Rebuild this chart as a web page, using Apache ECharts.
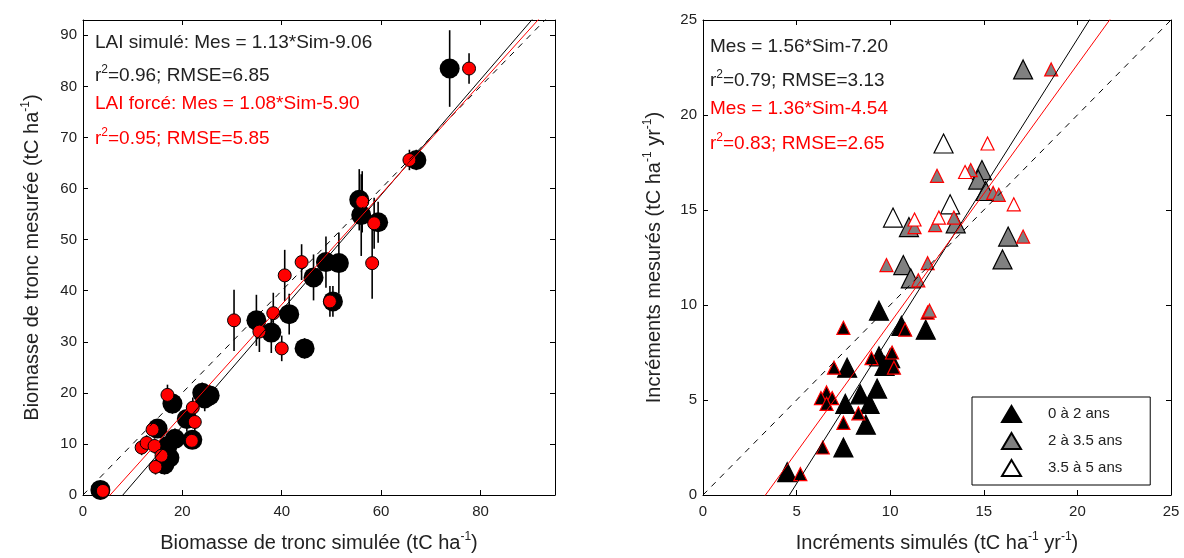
<!DOCTYPE html>
<html>
<head>
<meta charset="utf-8">
<script src="https://cdn.jsdelivr.net/npm/echarts@6/dist/echarts.min.js"></script>
<style>
html,body{margin:0;padding:0;background:#fff;}
#main{width:1184px;height:558px;}
</style>
</head>
<body>
<div id="main"></div>
<script>
// ---------- DATA ----------
// Left panel: [simulated, measured, error half-length]
const laiSimule = [
  [3.5,1.0,0],[15.0,13.0,1.5],[16.4,6.0,2],[17.0,9.6,2.5],[17.4,7.3,2],[18.0,17.9,2],
  [18.5,11.0,2],[20.9,14.9,2.5],[22.0,10.8,1.5],[24.5,18.9,2.5],[24.0,20.0,2],[25.5,19.5,2],
  [34.9,34.2,5],[37.9,31.8,4],[41.5,35.4,4],[44.6,28.7,2],[46.4,42.6,4.5],[48.9,45.6,5],
  [50.3,37.9,3],[51.5,45.4,6],[56.0,54.8,8],[55.6,57.8,6],[59.4,53.4,4],[67.1,65.6,2],[73.8,83.5,7.5]
];
const laiForce = [
  [4.0,0.8,0],[11.8,9.3,1.5],[12.8,10.2,1.5],[14.0,12.8,1.5],[14.4,9.6,1.5],[14.6,5.5,1.5],
  [15.8,7.7,1.5],[17.0,19.6,2],[22.1,17.1,2],[22.5,14.3,2],[21.9,10.6,1.5],[30.4,34.2,6],
  [35.5,32.0,4],[38.3,35.6,4],[40.0,28.7,2.5],[40.6,43.0,5],[44.0,45.6,3.5],[49.7,37.9,3],
  [56.2,57.4,6],[58.2,45.4,7],[58.6,53.2,5],[65.7,65.6,2],[77.7,83.5,3]
];
// Right panel: [simulated, measured]
const simYoung = [[4.5,1.2],[7.5,2.5],[8.7,3.7],[7.6,4.8],[8.4,5.3],[8.9,4.8],[9.3,5.6],[7.7,6.7],[9.4,7.3],[9.7,6.8],[9.4,9.7],[10.6,8.9],[11.9,8.7],[10.0,7.2]];
const simMid = [[17.1,22.4],[14.9,17.1],[14.7,16.6],[15.1,16.0],[13.5,14.3],[11.0,14.1],[10.7,12.1],[11.1,11.4],[16.3,13.6],[16.0,12.4]];
const simOld = [[12.85,18.5],[10.15,14.6],[13.2,15.3]];
const forcedYoung = [[5.2,1.1],[6.4,2.5],[7.5,3.8],[8.3,4.3],[6.6,5.4],[6.9,5.1],[6.3,5.1],[6.6,4.8],[7.0,6.7],[9.0,7.2],[10.1,7.5],[10.2,6.7],[7.5,8.8],[10.8,8.7],[12.0,9.6]];
const forcedMid = [[18.6,22.4],[14.3,17.1],[12.5,16.8],[15.5,15.9],[15.8,15.8],[12.4,14.2],[11.3,14.1],[9.8,12.1],[12.0,12.2],[11.5,11.3],[12.1,9.7],[17.1,13.6],[13.4,14.6]];
const forcedOld = [[15.2,18.5],[12.6,14.6],[16.6,15.3],[11.3,14.5],[14.0,17.0]];
// Fits [slope, intercept]
const fitLeftSim = [1.13, -9.06];
const fitLeftForce = [1.08, -5.90];
const fitRightSim = [1.56, -7.20];
const fitRightForce = [1.36, -4.54];
// Axis ranges & ticks
const leftX = [0, 95, 20];
const leftY = [0, 93, 10];
const rightX = [0, 25, 5];
const rightY = [0, 25, 5];
const legendNames = ['0 à 2 ans', '2 à 3.5 ans', '3.5 à 5 ans'];

// ---------- BUILD ----------
const FONT = '"Liberation Sans", Arial, sans-serif';
const TXT = '#222';
function lineFrom(fit, xmax) { return [[0, fit[1]], [xmax, fit[0] * xmax + fit[1]]]; }
function axis(base, gridIndex, pos, showLabel, mod) {
  return {
    type: 'value', gridIndex: gridIndex, position: pos,
    min: base[0], max: base[1], interval: base[2],
    axisLine: { show: true, onZero: false, lineStyle: { color: '#000', width: 1 } },
    axisTick: { show: true, inside: true, length: 5, lineStyle: { color: '#000' } },
    splitLine: { show: false },
    axisLabel: {
      show: showLabel, color: TXT, fontFamily: FONT, fontSize: 15, margin: pos === 'bottom' ? 9 : 6,
      formatter: v => (Math.abs(v % mod) < 1e-9 ? String(v) : '')
    }
  };
}
const richName = {
  a: { fontSize: 20, fontFamily: FONT, color: TXT, lineHeight: 24 },
  s: { fontSize: 12, fontFamily: FONT, color: TXT, lineHeight: 13, verticalAlign: 'top' }
};
const xAxes = [
  Object.assign(axis(leftX, 0, 'bottom', true, 20), { name: '{a|Biomasse de tronc simulée (tC ha}{s|-1}{a|)}', nameLocation: 'middle', nameGap: 36, nameTextStyle: { rich: richName } }),
  axis(leftX, 0, 'top', false, 20),
  Object.assign(axis(rightX, 1, 'bottom', true, 5), { name: '{a|Incréments simulés (tC ha}{s|-1}{a| yr}{s|-1}{a|)}', nameLocation: 'middle', nameGap: 36, nameTextStyle: { rich: richName } }),
  axis(rightX, 1, 'top', false, 5)
];
const yAxes = [
  Object.assign(axis(leftY, 0, 'left', true, 10), { name: '{a|Biomasse de tronc mesurée (tC ha}{s|-1}{a|)}', nameLocation: 'middle', nameGap: 39, nameTextStyle: { rich: richName } }),
  axis(leftY, 0, 'right', false, 10),
  Object.assign(axis(rightY, 1, 'left', true, 5), { name: '{a|Incréments mesurés (tC ha}{s|-1}{a| yr}{s|-1}{a|)}', nameLocation: 'middle', nameGap: 37, nameTextStyle: { rich: richName } }),
  axis(rightY, 1, 'right', false, 5)
];
function errBars(data) {
  return {
    type: 'custom', xAxisIndex: 0, yAxisIndex: 0, data: data, encode: { x: 0, y: 1 }, z: 2, silent: true,
    renderItem: (params, api) => {
      const x = api.value(0), y = api.value(1), e = api.value(2);
      const p1 = api.coord([x, y - e]), p2 = api.coord([x, y + e]);
      return { type: 'line', shape: { x1: p1[0], y1: p1[1], x2: p2[0], y2: p2[1] }, style: { stroke: '#000', lineWidth: 1.6 } };
    }
  };
}
function fitSeries(data, xi, color, dashed) {
  return {
    type: 'line', xAxisIndex: xi, yAxisIndex: xi, data: data, showSymbol: false, symbol: 'none', clip: true, z: 10, silent: true,
    lineStyle: { color: color, width: 1, type: dashed ? [6, 6] : 'solid' }
  };
}
function tri(name, data, fill, edge, size) {
  return {
    type: 'scatter', name: name, xAxisIndex: 2, yAxisIndex: 2, data: data, symbol: 'triangle', symbolSize: size, z: 5,
    itemStyle: { color: fill, borderColor: edge, borderWidth: 1.2, opacity: 1 }
  };
}
function richText(x, y, parts, color) {
  return {
    type: 'text', left: x, top: y,
    style: {
      text: parts, fill: color, font: '19px ' + FONT,
      rich: {
        a: { fontSize: 19, fontFamily: FONT, fill: color, lineHeight: 24 },
        s: { fontSize: 12, fontFamily: FONT, fill: color, lineHeight: 12, verticalAlign: 'top' }
      }
    }
  };
}

const option = {
  backgroundColor: '#fff',
  animation: false,
  grid: [
    { left: 83, top: 20, width: 472, height: 475 },
    { left: 703, top: 20, width: 468, height: 475 }
  ],
  xAxis: [xAxes[0], xAxes[1], xAxes[2], xAxes[3]],
  yAxis: [yAxes[0], yAxes[1], yAxes[2], yAxes[3]],
  legend: {
    data: legendNames, orient: 'vertical', left: 972, top: 397,
    borderColor: '#000', borderWidth: 1, padding: [8, 28, 8, 29], itemGap: 9,
    itemWidth: 19, itemHeight: 16, icon: 'triangle',
    textStyle: { color: TXT, fontFamily: FONT, fontSize: 15, padding: [0, 0, 0, 22] }
  },
  graphic: [
    richText(95, 33, '{a|LAI simulé: Mes = 1.13*Sim-9.06}', '#222'),
    richText(95, 64, '{a|r}{s|2}{a|=0.96; RMSE=6.85}', '#222'),
    richText(95, 94, '{a|LAI forcé: Mes = 1.08*Sim-5.90}', '#ff0000'),
    richText(95, 127, '{a|r}{s|2}{a|=0.95; RMSE=5.85}', '#ff0000'),
    richText(710, 37, '{a|Mes = 1.56*Sim-7.20}', '#222'),
    richText(710, 69, '{a|r}{s|2}{a|=0.79; RMSE=3.13}', '#222'),
    richText(710, 99, '{a|Mes = 1.36*Sim-4.54}', '#ff0000'),
    richText(710, 132, '{a|r}{s|2}{a|=0.83; RMSE=2.65}', '#ff0000')
  ],
  series: [
    errBars(laiSimule),
    errBars(laiForce),
    { type: 'scatter', xAxisIndex: 0, yAxisIndex: 0, data: laiSimule.map(d => [d[0], d[1]]), symbol: 'circle', symbolSize: 20, z: 3,
      itemStyle: { color: '#000', opacity: 1 } },
    { type: 'scatter', xAxisIndex: 0, yAxisIndex: 0, data: laiForce.map(d => [d[0], d[1]]), symbol: 'circle', symbolSize: 13, z: 4,
      itemStyle: { color: '#ff0000', borderColor: '#000', borderWidth: 1, opacity: 1 } },
    fitSeries(lineFrom([1, 0], leftX[1]), 0, '#000', true),
    fitSeries(lineFrom(fitLeftSim, leftX[1]), 0, '#000', false),
    fitSeries(lineFrom(fitLeftForce, leftX[1]), 0, '#ff0000', false),
    tri(legendNames[0], simYoung, '#000', '#000', 19),
    tri(legendNames[1], simMid, '#808080', '#000', 19),
    tri(legendNames[2], simOld, '#fff', '#000', 19),
    tri('forcé 0-2', forcedYoung, '#000', '#ff0000', 13),
    tri('forcé 2-3.5', forcedMid, '#808080', '#ff0000', 13),
    tri('forcé 3.5-5', forcedOld, '#fff', '#ff0000', 13),
    fitSeries(lineFrom([1, 0], rightX[1]), 2, '#000', true),
    fitSeries(lineFrom(fitRightSim, rightX[1]), 2, '#000', false),
    fitSeries(lineFrom(fitRightForce, rightX[1]), 2, '#ff0000', false)
  ]
};
const chart = echarts.init(document.getElementById('main'), null, { renderer: 'canvas' });
chart.setOption(option);
</script>
</body>
</html>
